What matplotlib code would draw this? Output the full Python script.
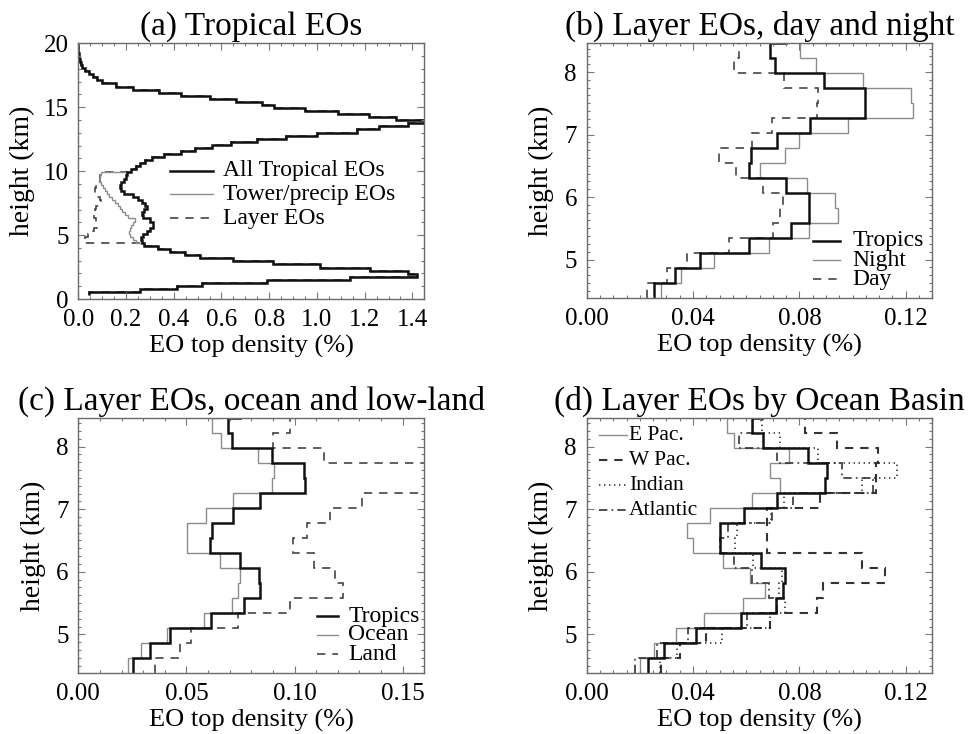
import numpy as np
import matplotlib
matplotlib.use('Agg')
import matplotlib.pyplot as plt
from matplotlib.ticker import MultipleLocator, FormatStrFormatter

plt.rcParams['font.family'] = ['Liberation Serif', 'DejaVu Serif']
plt.rcParams['lines.scale_dashes'] = False
plt.rcParams['mathtext.fontset'] = 'stix'

# ---------------- data ----------------
# Panel (a): height bins of 0.24 km starting at 0.30 km
A_BIN_BOTTOM = 0.30
BIN_WIDTH = 0.24
all_tropical = [0.046, 0.258, 0.412, 0.517, 0.789, 1.139, 1.418, 1.383, 1.222, 1.013,
                0.817, 0.650, 0.510, 0.447, 0.384, 0.335, 0.275, 0.265, 0.262, 0.270,
                0.286, 0.300, 0.314, 0.314, 0.300, 0.270, 0.265, 0.275, 0.286, 0.280,
                0.265, 0.251, 0.230, 0.190, 0.180, 0.175, 0.178, 0.190, 0.200, 0.205,
                0.220, 0.240, 0.260, 0.280, 0.310, 0.360, 0.430, 0.490, 0.560, 0.640,
                0.750, 0.870, 1.000, 1.170, 1.260, 1.380, 1.600, 1.330, 1.220, 1.090,
                0.950, 0.820, 0.770, 0.660, 0.550, 0.430, 0.340, 0.230, 0.160, 0.100,
                0.077, 0.060, 0.046, 0.030, 0.014, 0.010, 0.006, 0.003, 0.001, 0.0,
                0.0, 0.0]
SUB_START = 17   # first bin (4.38 km) of the tower / layer profiles in panel (a)
tower_precip = [0.240, 0.228, 0.218, 0.214, 0.218, 0.222, 0.228, 0.237, 0.210, 0.196,
                0.185, 0.175, 0.165, 0.154, 0.142, 0.130, 0.120, 0.110, 0.102, 0.095,
                0.088, 0.090, 0.095]
layer_a = [0.022, 0.030, 0.040, 0.055, 0.065, 0.077, 0.080, 0.075, 0.065, 0.062,
           0.068, 0.075, 0.088, 0.095, 0.090, 0.080, 0.072, 0.068, 0.075, 0.085,
           0.090]

# Panels (b)-(d): height bins of 0.24 km starting at 4.38 km
LAYER_BIN_BOTTOM = 4.38
tropics = [0.0253, 0.0332, 0.0426, 0.0612, 0.0767, 0.0838, 0.0835, 0.0749, 0.0609,
           0.0618, 0.0715, 0.0840, 0.1047, 0.1045, 0.0894, 0.0710, 0.0690, 0.0750]
night = [0.0280, 0.0354, 0.0480, 0.0687, 0.0838, 0.0945, 0.0935, 0.0828, 0.0652,
         0.0746, 0.0799, 0.0984, 0.1229, 0.1219, 0.1040, 0.0863, 0.0803, 0.0947]
day = [0.0226, 0.0303, 0.0376, 0.0537, 0.0700, 0.0727, 0.0740, 0.0662, 0.0562,
       0.0499, 0.0620, 0.0696, 0.0868, 0.0871, 0.0744, 0.0555, 0.0574, 0.0600]
ocean = [0.0231, 0.0289, 0.0411, 0.0582, 0.0711, 0.0738, 0.0746, 0.0657, 0.0503,
         0.0503, 0.0592, 0.0715, 0.0897, 0.0903, 0.0831, 0.0662, 0.0620, 0.0660]
land = [0.0354, 0.0472, 0.0523, 0.0738, 0.0977, 0.1223, 0.1185, 0.1092, 0.0995,
        0.1058, 0.1162, 0.1312, 0.1700, 0.1720, 0.1138, 0.0900, 0.0977, 0.1050]
e_pac = [0.0200, 0.0253, 0.0335, 0.0441, 0.0589, 0.0671, 0.0614, 0.0514, 0.0401,
         0.0376, 0.0464, 0.0621, 0.0727, 0.0690, 0.0762, 0.0554, 0.0527, 0.0550]
w_pac = [0.0280, 0.0350, 0.0450, 0.0690, 0.0868, 0.0890, 0.1122, 0.1034, 0.0677,
         0.0677, 0.0677, 0.0878, 0.1090, 0.1090, 0.1097, 0.0943, 0.0821, 0.0850]
indian = [0.0276, 0.0339, 0.0508, 0.0690, 0.0746, 0.0725, 0.0734, 0.0627, 0.0558,
          0.0564, 0.0692, 0.0742, 0.1034, 0.1166, 0.0871, 0.0727, 0.0658, 0.0680]
atlantic = [0.0180, 0.0263, 0.0382, 0.0602, 0.0715, 0.0687, 0.0620, 0.0555, 0.0500,
            0.0530, 0.0696, 0.0777, 0.1078, 0.0960, 0.0715, 0.0574, 0.0627, 0.0650]

titles = ['(a) Tropical EOs', '(b) Layer EOs, day and night',
          '(c) Layer EOs, ocean and low-land', '(d) Layer EOs by Ocean Basin']
xlabel = 'EO top density (%)'
ylabel = 'height (km)'

# ---------------- derived series ----------------
all_arr = np.array(all_tropical)
tower_full = all_arr.copy()
tower_full[SUB_START:SUB_START + len(tower_precip)] = tower_precip
layer_full = tower_full.copy()
layer_full[SUB_START:SUB_START + len(layer_a)] = layer_a
a_edges = A_BIN_BOTTOM + BIN_WIDTH * np.arange(len(all_arr) + 1)
l_edges = LAYER_BIN_BOTTOM + BIN_WIDTH * np.arange(len(tropics) + 1)

# ---------------- styles ----------------
BLACK = dict(color='#111111', lw=1.8, ls='-')
GRAY = dict(color='#8c8c8c', lw=1.0, ls='-')
DASH = dict(color='#444444', lw=1.2, ls=(0, (6, 5)))
WDASH = dict(color='#333333', lw=1.5, ls=(0, (6, 5)))
DOT = dict(color='#222222', lw=1.1, ls=(0, (1, 2.6)))
DASHDOT = dict(color='#333333', lw=1.2, ls=(0, (6, 3, 1.2, 3)))

W, H = 969, 734
fig = plt.figure(figsize=(W / 100, H / 100), dpi=100)


def px_axes(left, top, right, bottom):
    return fig.add_axes([left / W, 1 - bottom / H, (right - left) / W, (bottom - top) / H])


ax_a = px_axes(78.3, 43.3, 424.3, 299.0)
ax_b = px_axes(586.7, 43.3, 932.3, 298.3)
ax_c = px_axes(78.3, 417.7, 424.3, 673.3)
ax_d = px_axes(586.7, 417.7, 932.3, 673.3)


def steps(ax, vals, edges, style):
    ax.stairs(np.asarray(vals), edges, orientation='horizontal', baseline=None, **style)


def style_axes(ax, title, xmaj, xmin, xfmt, ymaj, ymin, yfmt, ylab_x):
    ax.set_title(title, fontsize=24, pad=6)
    ax.xaxis.set_major_locator(MultipleLocator(xmaj))
    ax.xaxis.set_minor_locator(MultipleLocator(xmin))
    ax.xaxis.set_major_formatter(FormatStrFormatter(xfmt))
    ax.yaxis.set_major_locator(MultipleLocator(ymaj))
    ax.yaxis.set_minor_locator(MultipleLocator(ymin))
    ax.yaxis.set_major_formatter(FormatStrFormatter(yfmt))
    ax.tick_params(which='both', direction='in', top=True, right=True, color='#777777',
                   width=0.8)
    ax.tick_params(which='major', length=5, labelsize=18)
    ax.tick_params(which='minor', length=2.5)
    ax.tick_params(axis='x', which='major', pad=7)
    ax.tick_params(axis='y', which='major', pad=7)
    for s in ax.spines.values():
        s.set_color('#6a6a6a')
        s.set_linewidth(1.0)
    ax.set_xlabel(xlabel, fontsize=19, va='center')
    ax.xaxis.set_label_coords(0.5, -0.185)
    ax.set_ylabel(ylabel, fontsize=20, va='center')
    ax.yaxis.set_label_coords(ylab_x, 0.5)


def manual_legend(ax, entries, x0, x1, xt, ys, fs):
    for (label, st), y in zip(entries, ys):
        ax.plot([x0, x1], [y, y], transform=ax.transAxes, clip_on=False, **st)
        ax.text(xt, y, label, transform=ax.transAxes, va='center', ha='left', fontsize=fs)


# ---- (a)
steps(ax_a, layer_full, a_edges, DASH)
steps(ax_a, tower_full, a_edges, GRAY)
steps(ax_a, all_arr, a_edges, BLACK)
ax_a.set_xlim(0, 1.45)
ax_a.set_ylim(0, 20)
style_axes(ax_a, titles[0], 0.2, 0.05, '%.1f', 5, 1, '%d', -0.161)
manual_legend(ax_a, [('All Tropical EOs', BLACK), ('Tower/precip EOs', GRAY), ('Layer EOs', DASH)],
              0.265, 0.389, 0.418, [0.502, 0.409, 0.316], 17)

# ---- (b)
steps(ax_b, day, l_edges, DASH)
steps(ax_b, night, l_edges, GRAY)
steps(ax_b, tropics, l_edges, BLACK)
ax_b.set_xlim(0, 0.13)
ax_b.set_ylim(4.38, 8.46)
style_axes(ax_b, titles[1], 0.04, 0.005, '%.2f', 1, 0.125, '%d', -0.130)
manual_legend(ax_b, [('Tropics', BLACK), ('Night', GRAY), ('Day', DASH)],
              0.655, 0.733, 0.770, [0.226, 0.150, 0.075], 17)

# ---- (c)
steps(ax_c, land, l_edges, DASH)
steps(ax_c, ocean, l_edges, GRAY)
steps(ax_c, tropics, l_edges, BLACK)
ax_c.set_xlim(0, 0.16)
ax_c.set_ylim(4.38, 8.46)
style_axes(ax_c, titles[2], 0.05, 0.01, '%.2f', 1, 0.125, '%d', -0.130)
manual_legend(ax_c, [('Tropics', BLACK), ('Ocean', GRAY), ('Land', DASH)],
              0.689, 0.752, 0.780, [0.224, 0.150, 0.075], 17)

# ---- (d)
steps(ax_d, e_pac, l_edges, GRAY)
steps(ax_d, w_pac, l_edges, WDASH)
steps(ax_d, indian, l_edges, DOT)
steps(ax_d, atlantic, l_edges, DASHDOT)
steps(ax_d, ocean, l_edges, BLACK)
ax_d.set_xlim(0, 0.13)
ax_d.set_ylim(4.38, 8.46)
style_axes(ax_d, titles[3], 0.04, 0.005, '%.2f', 1, 0.125, '%d', -0.130)
manual_legend(ax_d, [('E Pac.', GRAY), ('W Pac.', WDASH), ('Indian', DOT), ('Atlantic', DASHDOT)],
              0.036, 0.116, 0.123, [0.932, 0.834, 0.736, 0.638], 15.5)

fig.savefig('out.png', dpi=100)
